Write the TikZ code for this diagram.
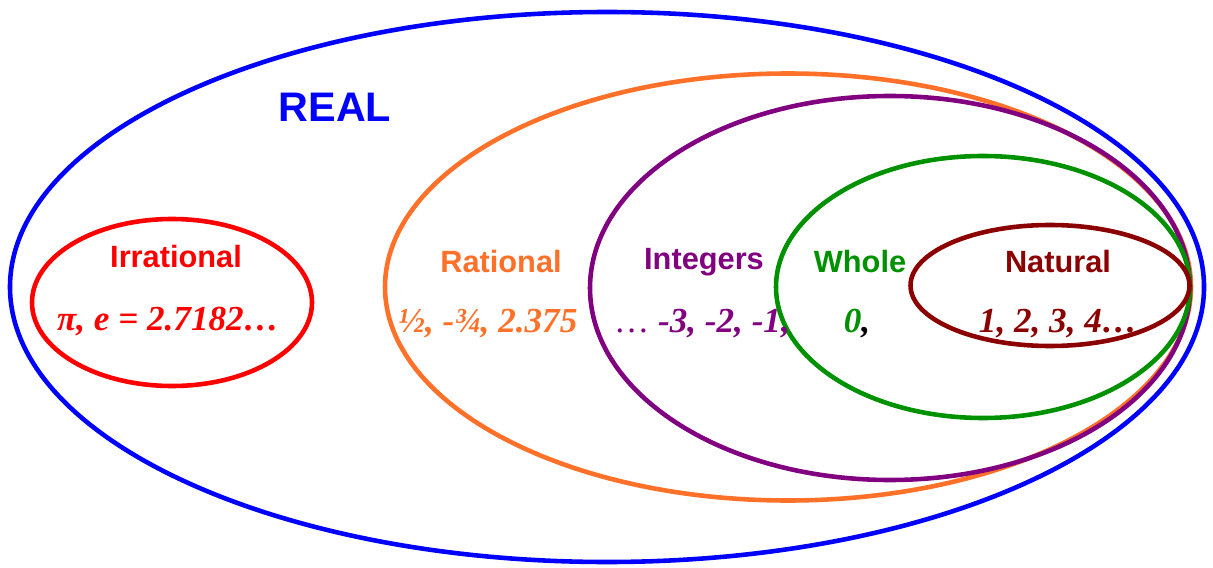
\documentclass[tikz,border=0pt]{standalone}
\usepackage{fontspec}
\setmainfont{Liberation Serif}
\setsansfont{Liberation Sans}
\definecolor{RealBlue}{RGB}{0, 0, 255}
\definecolor{IrrRed}{RGB}{255, 0, 0}
\definecolor{RatOrange}{RGB}{255, 112, 40}
\definecolor{IntPurple}{RGB}{128, 0, 128}
\definecolor{WholeGreen}{RGB}{0, 145, 0}
\definecolor{NatRed}{RGB}{139, 0, 0}
\usetikzlibrary{positioning}

\begin{document}
\begin{tikzpicture}[
    set/.style={line width=2.6pt},
    setname/.style={font=\sffamily\bfseries\fontsize{17.5}{20}\selectfont},
    members/.style={font=\bfseries\itshape\fontsize{20}{24}\selectfont}]
    \useasboundingbox (0,0) rectangle (24.26,11.34);
    % the sets
    \draw[set, RealBlue] (12.14,5.60) ellipse (11.94 and 5.50);
    \draw[set, RatOrange] (15.76,5.60) ellipse (8.06 and 4.27);
    \draw[set, IntPurple] (17.80,5.58) ellipse (6.00 and 3.84);
    \draw[set, WholeGreen] (19.66,5.60) ellipse (4.14 and 2.62);
    \draw[set, NatRed] (21.00,5.63) ellipse (2.79 and 1.21);
    \draw[set, IrrRed] (3.44,5.29) ellipse (2.80 and 1.67);
    % names
    \node[setname, text=RealBlue, font=\sffamily\bfseries\fontsize{23.5}{28}\selectfont] (real) at (6.70,9.20) {REAL};
    \node[setname, text=IrrRed] (irr) at (3.52,6.20) {Irrational};
    \node[setname, text=RatOrange] (rat) at (10.02,6.10) {Rational};
    \node[setname, text=IntPurple] (int) at (14.08,6.10) {Integers};
    \node[setname, text=WholeGreen] (whole) at (17.20,6.10) {Whole};
    \node[setname, text=NatRed] (nat) at (21.16,6.10) {Natural};
    % members
    \node[members, text=IrrRed] (irrnum) at (3.36,4.90) {π, e = 2.7182…};
    \node[members, text=RatOrange] (ratnum) at (9.76,4.86) {½, -¾, 2.375};
    \node[members, text=IntPurple] (intnum) at (14.04,4.86) {{\normalfont …} -3, -2, -1,};
    \node[members, text=WholeGreen] (wholenum) at (17.14,4.86) {0\textcolor{black}{,}};
    \node[members, text=NatRed] (natnum) at (21.16,4.86) {1, 2, 3, 4…};
\end{tikzpicture}
\end{document}
